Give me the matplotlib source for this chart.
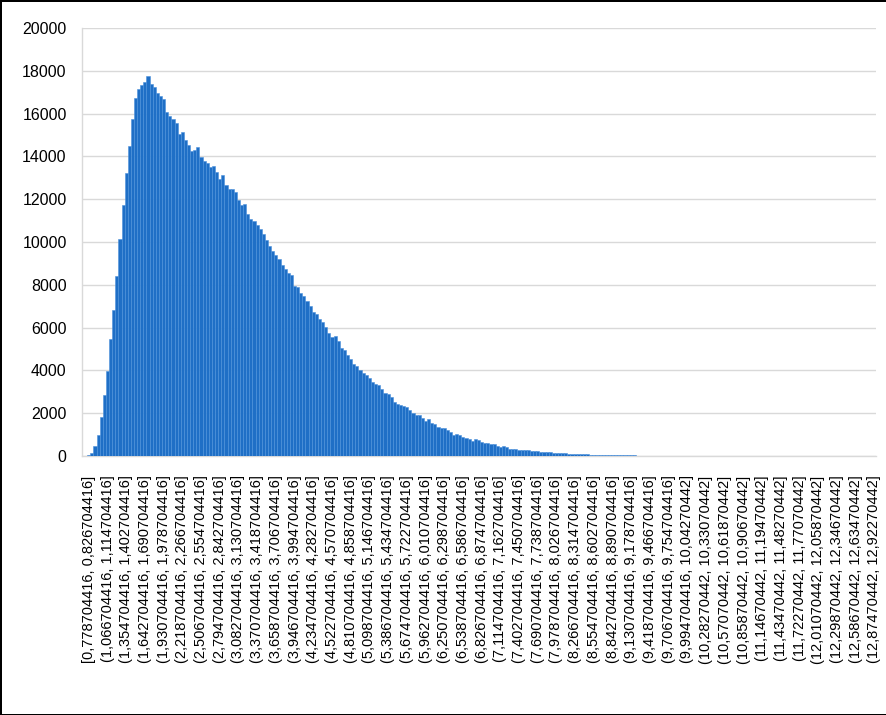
import numpy as np
import matplotlib
matplotlib.use('Agg')
import matplotlib.pyplot as plt

# histogram bins: start of first bin and bin width
bin_start = 0.778704416
bin_width = 0.048
label_every = 6

# counts per bin (253 bins)
counts = [
    30, 150, 470, 980, 1810, 2870, 3990, 5460, 6830, 8420,
    10160, 11740, 13210, 14470, 15740, 16750, 17140, 17350, 17480, 17780,
    17390, 17260, 16980, 16830, 16700, 16060, 15900, 15740, 15560, 15060,
    15130, 14780, 14540, 14270, 14300, 14460, 13960, 13800, 13680, 13490,
    13570, 13260, 12940, 13130, 12660, 12470, 12470, 12320, 11960, 11740,
    11770, 11300, 11070, 10960, 10800, 10630, 10390, 10080, 9810, 9580,
    9390, 9190, 8920, 8760, 8530, 8470, 7960, 7910, 7610, 7490,
    7250, 7020, 6750, 6630, 6390, 6240, 6050, 5770, 5560, 5610,
    5380, 5060, 4940, 4720, 4520, 4280, 4200, 4000, 3860, 3780,
    3630, 3470, 3380, 3310, 3110, 2950, 2880, 2770, 2530, 2440,
    2390, 2340, 2270, 2170, 1990, 1930, 1900, 1770, 1640, 1710,
    1530, 1480, 1370, 1290, 1290, 1200, 1130, 1000, 1050, 1000,
    910, 850, 810, 720, 780, 770, 650, 610, 620, 560,
    540, 490, 430, 450, 410, 350, 350, 350, 290, 290,
    270, 290, 240, 240, 220, 200, 185, 170, 165, 150,
    140, 135, 125, 120, 110, 100, 95, 90, 85, 80,
    75, 70, 65, 60, 57, 53, 50, 46, 43, 40,
    37, 35, 32, 30, 28, 26, 24, 22, 20, 19,
    17, 16, 15, 14, 13, 12, 11, 10, 9, 9,
    8, 7, 7, 6, 6, 5, 5, 4, 4, 4,
    3, 3, 3, 2, 2, 2, 2, 2, 1, 1,
    1, 1, 1, 1, 1, 1, 0, 1, 0, 1,
    0, 0, 1, 0, 0, 0, 0, 1, 0, 0,
    0, 0, 0, 0, 0, 0, 0, 0, 0, 0,
    0, 0, 0, 0, 0, 0, 0, 0, 0, 0,
    0, 0, 0,
]

y_ticks = list(range(0, 20001, 2000))


def fmt(v):
    return f'{v:.10g}'.replace('.', ',')


def bin_label(i):
    lo = bin_start + bin_width * i
    hi = lo + bin_width
    left = '[' if i == 0 else '('
    return f'{left}{fmt(lo)}, {fmt(hi)}]'


def main():
    plt.rcParams['font.family'] = ['Liberation Sans', 'DejaVu Sans']

    fig = plt.figure(figsize=(8.87, 7.15), dpi=100)
    fig.patch.set_edgecolor('black')
    fig.patch.set_linewidth(2)
    ax = fig.add_axes([0.0924, 0.3622, 0.8952, 0.5986])

    x = np.arange(len(counts))
    ax.bar(x, counts, width=1.0, color='#1f6fc6', edgecolor='#4d92db', linewidth=0.4, zorder=3)

    ax.set_xlim(-2.2, len(counts) - 0.5)
    ax.set_ylim(0, 20000)
    ax.set_yticks(y_ticks)
    ax.set_yticklabels([str(v) for v in y_ticks], fontsize=11.5)

    tick_idx = list(range(0, len(counts), label_every))
    ax.set_xticks(tick_idx)
    ax.set_xticklabels([bin_label(i) for i in tick_idx], rotation=90, fontsize=10.5, va='top')

    ax.tick_params(axis='both', length=0)
    ax.tick_params(axis='y', pad=11)
    ax.tick_params(axis='x', pad=14)

    ax.grid(axis='y', color='#d9d9d9', linewidth=1, zorder=0)
    for s in ['top', 'right']:
        ax.spines[s].set_visible(False)
    ax.spines['left'].set_color('#d9d9d9')
    ax.spines['bottom'].set_color('#d9d9d9')
    ax.spines['left'].set_linewidth(1)
    ax.spines['bottom'].set_linewidth(1)

    fig.savefig('out.png', dpi=100, edgecolor=fig.get_edgecolor())


if __name__ == '__main__':
    main()
